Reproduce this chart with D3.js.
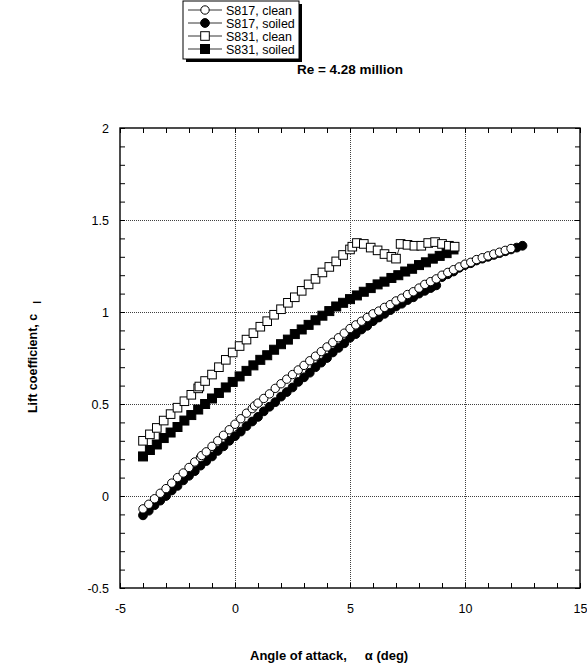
<!DOCTYPE html>
<html>
<head>
<meta charset="utf-8">
<script src="https://cdn.jsdelivr.net/npm/d3@7"></script>
<style>
  body { margin: 0; background: #fff; }
  text { font-family: "Liberation Sans", Arial, Helvetica, sans-serif; fill: #000; }
</style>
</head>
<body>
<svg id="chart" width="587" height="670"></svg>
<script>
// ---- data: lift coefficient vs angle of attack, Re = 4.28 million ----
const seriesNames = ["S817, clean", "S817, soiled", "S831, clean", "S831, soiled"];

const s817CleanAlpha = [-4.0,-3.75,-3.5,-3.25,-3.0,-2.75,-2.5,-2.25,-2.0,-1.75,-1.5,-1.45,-1.25,-1.0,-0.75,-0.5,-0.25,0.0,0.25,0.5,0.75,0.85,1.0,1.25,1.5,1.75,2.0,2.25,2.5,2.75,3.0,3.25,3.5,3.75,4.0,4.25,4.5,4.75,5.0,5.25,5.5,5.75,6.0,6.25,6.5,6.75,7.0,7.25,7.5,7.75,8.0,8.25,8.5,8.75,9.0,9.25,9.5,9.75,10.0,10.25,10.5,10.75,11.0,11.25,11.5,11.75,12.0];
const s817CleanCl    = [-0.07,-0.045,-0.015,0.015,0.04,0.07,0.10,0.125,0.155,0.185,0.21,0.22,0.24,0.27,0.30,0.33,0.36,0.39,0.42,0.45,0.475,0.49,0.505,0.53,0.555,0.585,0.61,0.635,0.66,0.685,0.71,0.735,0.76,0.785,0.81,0.835,0.86,0.885,0.91,0.93,0.95,0.97,0.99,1.005,1.025,1.04,1.06,1.075,1.095,1.11,1.13,1.15,1.165,1.18,1.20,1.215,1.23,1.245,1.26,1.27,1.285,1.295,1.305,1.315,1.325,1.335,1.345];

const s817SoiledAlpha = [-4.0,-3.75,-3.5,-3.25,-3.0,-2.75,-2.5,-2.25,-2.0,-1.75,-1.5,-1.25,-1.0,-0.75,-0.5,-0.25,0.0,0.25,0.5,0.75,1.0,1.25,1.5,1.75,2.0,2.25,2.5,2.75,3.0,3.25,3.5,3.75,4.0,4.25,4.5,4.75,5.0,5.25,5.5,5.75,6.0,6.25,6.5,6.75,7.0,7.25,7.5,7.75,8.0,8.25,8.5,8.6,8.75,9.0,9.25,9.5,9.75,10.0,10.25,10.5,10.75,11.0,11.25,11.5,11.75,12.0,12.25,12.5];
const s817SoiledCl    = [-0.105,-0.08,-0.05,-0.025,0.0,0.03,0.055,0.085,0.11,0.135,0.165,0.19,0.215,0.245,0.27,0.30,0.325,0.35,0.38,0.405,0.43,0.46,0.485,0.51,0.54,0.565,0.59,0.62,0.645,0.67,0.70,0.725,0.75,0.78,0.805,0.83,0.86,0.88,0.905,0.925,0.95,0.97,0.99,1.01,1.03,1.045,1.065,1.08,1.10,1.115,1.13,1.14,1.145,1.19,1.205,1.22,1.24,1.255,1.265,1.28,1.29,1.30,1.31,1.32,1.33,1.34,1.35,1.36];

const s831CleanAlpha = [-4.0,-3.7,-3.4,-3.1,-2.8,-2.5,-2.2,-1.9,-1.6,-1.55,-1.3,-1.0,-0.7,-0.4,-0.1,0.2,0.5,0.8,1.1,1.4,1.7,2.0,2.3,2.6,2.9,3.2,3.5,3.8,4.1,4.4,4.7,5.0,5.1,5.3,5.6,5.9,6.2,6.5,6.8,7.0,7.2,7.5,7.8,8.1,8.4,8.7,9.0,9.3,9.55];
const s831CleanCl    = [0.30,0.335,0.37,0.41,0.445,0.48,0.515,0.55,0.585,0.595,0.625,0.66,0.70,0.74,0.78,0.815,0.85,0.885,0.92,0.95,0.985,1.015,1.05,1.08,1.115,1.15,1.18,1.215,1.245,1.275,1.31,1.34,1.355,1.375,1.37,1.35,1.335,1.315,1.30,1.29,1.37,1.365,1.36,1.36,1.375,1.38,1.37,1.36,1.355];

const s831SoiledAlpha = [-4.0,-3.7,-3.4,-3.1,-2.8,-2.5,-2.2,-1.9,-1.6,-1.3,-1.0,-0.7,-0.4,-0.1,0.2,0.5,0.8,1.1,1.4,1.7,2.0,2.3,2.6,2.9,3.2,3.5,3.8,4.1,4.4,4.7,5.0,5.3,5.6,5.9,6.2,6.5,6.8,7.1,7.4,7.7,8.0,8.3,8.6,8.9,9.2,9.5];
const s831SoiledCl    = [0.215,0.25,0.28,0.315,0.345,0.375,0.41,0.44,0.47,0.50,0.53,0.56,0.59,0.62,0.65,0.68,0.71,0.74,0.765,0.795,0.825,0.85,0.88,0.905,0.93,0.955,0.98,1.005,1.03,1.05,1.07,1.09,1.11,1.13,1.15,1.165,1.185,1.20,1.22,1.235,1.255,1.27,1.29,1.305,1.32,1.34];

const xTickValues = [-5, 0, 5, 10, 15];
const xTickLabels = ["-5", "0", "5", "10", "15"];
const yTickValues = [-0.5, 0, 0.5, 1, 1.5, 2];
const yTickLabels = ["-0.5", "0", "0.5", "1", "1.5", "2"];
const xMinorTicks = d3.range(-5, 15.001, 1);
const yMinorTicks = d3.range(-5, 20.001, 1).map(v => v / 10);

// ---- layout ----
const svg = d3.select("#chart");
const plot = { left: 120, right: 580, top: 128, bottom: 588 };
const x = d3.scaleLinear().domain([-5, 15]).range([plot.left, plot.right]);
const y = d3.scaleLinear().domain([-0.5, 2]).range([plot.bottom, plot.top]);

const zip = (a, b) => a.map((v, i) => ({ a: v, cl: b[i] }));
const series = [
  { name: seriesNames[1], pts: zip(s817SoiledAlpha, s817SoiledCl), shape: "circle", filled: true },
  { name: seriesNames[0], pts: zip(s817CleanAlpha, s817CleanCl), shape: "circle", filled: false },
  { name: seriesNames[3], pts: zip(s831SoiledAlpha, s831SoiledCl), shape: "square", filled: true },
  { name: seriesNames[2], pts: zip(s831CleanAlpha, s831CleanCl), shape: "square", filled: false }
];

// grid lines at the interior major ticks
const grid = svg.append("g").attr("stroke", "#404040").attr("stroke-width", 1).attr("stroke-dasharray", "1,1");
grid.selectAll("line.gx").data(xTickValues.slice(1, -1)).join("line")
  .attr("x1", d => Math.round(x(d)) + 0.5).attr("x2", d => Math.round(x(d)) + 0.5)
  .attr("y1", plot.top).attr("y2", plot.bottom);
grid.selectAll("line.gy").data(yTickValues.slice(1, -1)).join("line")
  .attr("y1", d => Math.round(y(d)) + 0.5).attr("y2", d => Math.round(y(d)) + 0.5)
  .attr("x1", plot.left).attr("x2", plot.right);

// inward minor ticks on all four sides
function minorAxis(gen, transform) {
  const g = svg.append("g").attr("transform", transform).call(gen);
  g.select(".domain").remove();
  g.selectAll("text").remove();
  g.selectAll("line").attr("stroke", "#000");
}
minorAxis(d3.axisBottom(x).tickValues(xMinorTicks).tickSize(-5), `translate(0,${plot.bottom})`);
minorAxis(d3.axisTop(x).tickValues(xMinorTicks).tickSize(-5), `translate(0,${plot.top})`);
minorAxis(d3.axisLeft(y).tickValues(yMinorTicks).tickSize(-5), `translate(${plot.left},0)`);
minorAxis(d3.axisRight(y).tickValues(yMinorTicks).tickSize(-5), `translate(${plot.right},0)`);

// frame
svg.append("rect")
  .attr("x", plot.left).attr("y", plot.top)
  .attr("width", plot.right - plot.left).attr("height", plot.bottom - plot.top)
  .attr("fill", "none").attr("stroke", "#000").attr("stroke-width", 1.4);

// tick labels
const xAxis = svg.append("g").attr("transform", `translate(0,${plot.bottom})`)
  .call(d3.axisBottom(x).tickValues(xTickValues).tickSize(0).tickPadding(16)
    .tickFormat((d, i) => xTickLabels[i]));
xAxis.select(".domain").remove();
xAxis.selectAll("text").attr("font-size", 12.5).attr("fill", "#000");

const yAxis = svg.append("g").attr("transform", `translate(${plot.left},0)`)
  .call(d3.axisLeft(y).tickValues(yTickValues).tickSize(0).tickPadding(11)
    .tickFormat((d, i) => yTickLabels[i]));
yAxis.select(".domain").remove();
yAxis.selectAll("text").attr("font-size", 12.5).attr("fill", "#000");

// markers
const line = d3.line().x(d => x(d.a)).y(d => y(d.cl));
function drawMarker(sel, shape, filled) {
  if (shape === "circle") {
    sel.append("circle").attr("r", filled ? 4.4 : 4.2)
      .attr("fill", filled ? "#000" : "#fff").attr("stroke", "#000").attr("stroke-width", 1);
  } else {
    const s = filled ? 9 : 8.6;
    sel.append("rect").attr("x", -s / 2).attr("y", -s / 2).attr("width", s).attr("height", s)
      .attr("fill", filled ? "#000" : "#fff").attr("stroke", "#000").attr("stroke-width", 1);
  }
}

series.forEach(s => {
  const g = svg.append("g");
  g.append("path").datum(s.pts).attr("d", line)
    .attr("fill", "none").attr("stroke", "#000").attr("stroke-width", 0.8);
  g.selectAll("g.m").data(s.pts).join("g")
    .attr("transform", d => `translate(${x(d.a)},${y(d.cl)})`)
    .each(function () { drawMarker(d3.select(this), s.shape, s.filled); });
});

// title
svg.append("text").attr("x", 350).attr("y", 74).attr("text-anchor", "middle")
  .attr("font-size", 13.5).attr("font-weight", "bold").text("Re = 4.28 million");

// axis titles
const xt = svg.append("text").attr("x", 250).attr("y", 660)
  .attr("font-size", 13).attr("font-weight", "bold");
xt.append("tspan").text("Angle of attack,");
xt.append("tspan").attr("dx", 18).text("α (deg)");

const yt = svg.append("text").attr("transform", "translate(37,357) rotate(-90)")
  .attr("text-anchor", "middle").attr("font-size", 12.5).attr("font-weight", "bold");
yt.append("tspan").text("Lift coefficient, c");
yt.append("tspan").attr("dx", 10).attr("dy", 4).attr("font-size", 10).text("l");

// legend
const leg = { x: 183, y: 1, w: 116, h: 58 };
svg.append("rect").attr("x", leg.x + 3).attr("y", leg.y + 3).attr("width", leg.w).attr("height", leg.h).attr("fill", "#000");
svg.append("rect").attr("x", leg.x).attr("y", leg.y).attr("width", leg.w).attr("height", leg.h)
  .attr("fill", "#fff").attr("stroke", "#000").attr("stroke-width", 1);
const legendOrder = [series[1], series[0], series[3], series[2]];
legendOrder.forEach((s, i) => {
  const cy = leg.y + 9 + i * 13;
  svg.append("line").attr("x1", leg.x + 5).attr("x2", leg.x + 39).attr("y1", cy).attr("y2", cy)
    .attr("stroke", "#000").attr("stroke-width", 0.8);
  const m = svg.append("g").attr("transform", `translate(${leg.x + 22},${cy})`);
  drawMarker(m, s.shape, s.filled);
  svg.append("text").attr("x", leg.x + 43).attr("y", cy + 4.5).attr("font-size", 12.5).text(s.name);
});
</script>
</body>
</html>
